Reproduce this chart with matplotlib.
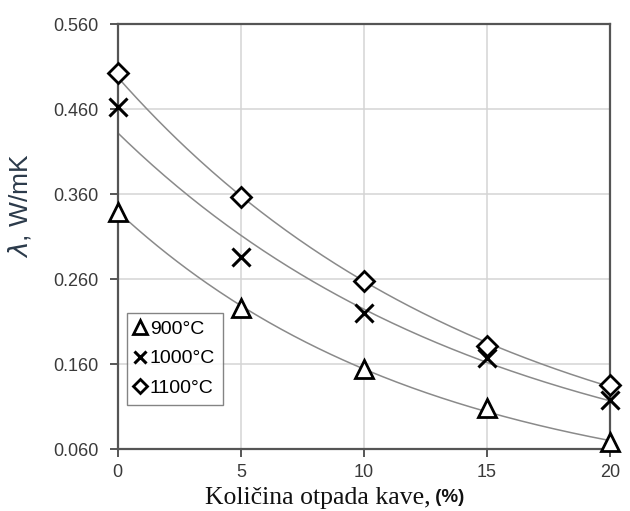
import matplotlib
matplotlib.use("Agg")
import matplotlib.pyplot as plt
import numpy as np

# waste coffee content (%)
x = [0, 5, 10, 15, 20]

# thermal conductivity, W/mK
lam_900 = [0.339, 0.226, 0.154, 0.109, 0.068]
lam_1000 = [0.462, 0.286, 0.220, 0.167, 0.118]
lam_1100 = [0.502, 0.356, 0.258, 0.181, 0.136]

labels = ["900°C", "1000°C", "1100°C"]
yticks = [0.060, 0.160, 0.260, 0.360, 0.460, 0.560]
xticks = [0, 5, 10, 15, 20]

plt.rcParams['font.family'] = ['Liberation Sans', 'DejaVu Sans']

fig = plt.figure(figsize=(6.3, 5.11), dpi=100)
ax = fig.add_axes([0.187, 0.121, 0.781, 0.832])

# exponential trend lines (like excel)
xs = np.linspace(0, 20, 200)
for ys in (lam_900, lam_1000, lam_1100):
    b, a = np.polyfit(x, np.log(ys), 1)
    ax.plot(xs, np.exp(a) * np.exp(b * xs), color="#8a8a8a", lw=1.1, zorder=2)

ax.plot(x, lam_900, ls="none", marker="^", ms=13.5, mfc="white", mec="black", mew=2, label=labels[0], zorder=3, clip_on=False)
ax.plot(x, lam_1000, ls="none", marker="x", ms=12.5, mec="black", mew=2.2, label=labels[1], zorder=3, clip_on=False)
ax.plot(x, lam_1100, ls="none", marker="D", ms=10, mfc="white", mec="black", mew=2, label=labels[2], zorder=3, clip_on=False)

ax.set_xlim(0, 20)
ax.set_ylim(0.060, 0.560)
ax.set_xticks(xticks)
ax.set_yticks(yticks)
ax.set_yticklabels(["%.3f" % v for v in yticks])
ax.tick_params(axis="both", direction="out", length=6, width=1.2, labelsize=13, colors="#3a3a3a")
ax.tick_params(axis="y", pad=8)
ax.tick_params(axis="x", pad=5)
ax.grid(True, color="#d4d4d4", lw=1.1)
ax.set_axisbelow(True)
for s in ax.spines.values():
    s.set_color("#555555")
    s.set_linewidth(1.6)

ax.set_ylabel(r"$\lambda$, W/mK", fontsize=19, color="#2b3a4a")
ax.yaxis.set_label_coords(-0.172, 0.574)

t1 = fig.text(0.325, 0.014, "Količina otpada kave,", family="Liberation Serif", fontsize=18.5, color="#111111")
ax.annotate(" (%)", xy=(1, 0), xycoords=t1, xytext=(0, 2), textcoords="offset points",
            fontsize=13.5, fontweight="bold", color="#111111", va="bottom")

leg = ax.legend(loc="lower left", bbox_to_anchor=(0.018, 0.105), fontsize=14, handlelength=0.6,
                handletextpad=0.2, borderpad=0.4, labelspacing=0.6, fancybox=False,
                edgecolor="#666666", markerscale=0.7, borderaxespad=0)
leg.get_frame().set_linewidth(1.0)

fig.savefig("out.png", dpi=100)
